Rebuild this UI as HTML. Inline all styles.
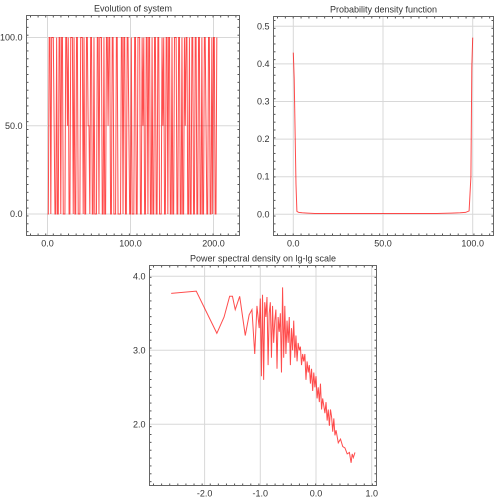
<!DOCTYPE html>
<html><head><meta charset="utf-8"><style>
body{margin:0;background:#fff;}
svg{display:block;font-family:"Liberation Sans","DejaVu Sans",sans-serif;}
</style></head><body>
<svg id="c" width="500" height="500" viewBox="0 0 500 500"></svg>
<script>
// ---- data: evolution of system ----
const evoValues = [0,0,100,100,0,100,100,100,50,0,0,100,0,0,100,100,0,100,100,0,0,0,100,100,50,100,0,0,100,100,100,0,100,0,0,100,100,0,0,0,
100,100,100,0,100,0,0,100,100,50,50,0,100,100,0,0,100,0,0,0,100,100,0,100,100,100,0,0,100,0,0,100,100,50,100,100,0,0,100,100,
0,0,0,100,100,0,0,0,0,100,100,0,100,100,0,0,100,100,50,0,0,100,0,0,0,100,100,0,0,100,100,100,0,0,100,50,100,0,0,100,
100,0,100,100,0,0,100,0,0,100,100,0,0,100,100,0,0,0,100,50,100,0,0,100,100,0,100,100,0,0,100,0,0,100,100,100,0,0,100,100,
0,0,100,0,0,100,50,100,100,0,0,100,0,0,100,100,0,0,100,100,0,0,100,100,0,0,100,0,0,100,100,50,0,0,100,100,0,0,100,0,
100,100,0,0,100];
const evoXTicks = [0,100,200];
const evoYTicks = [0,50,100];
// ---- data: probability density ----
const pdfX = [0,0.5,1,1.5,2,3,5,8,12,20,30,40,50,60,70,80,88,93,96,98,99,99.5,100];
const pdfY = [0.43,0.36,0.22,0.08,0.008,0.005,0.004,0.003,0.002,0.002,0.002,0.002,0.002,0.002,0.002,0.002,0.003,0.004,0.005,0.009,0.1,0.39,0.47];
const pdfXTicks = [0,50,100];
const pdfYTicks = [0,0.1,0.2,0.3,0.4,0.5];
// ---- data: power spectral density (lg-lg) ----
const psdX = [-2.6,-2.15,-1.78,-1.65,-1.55,-1.5,-1.45,-1.37,-1.27,-1.2,-1.15,-1.1,-1.06,-1.02,-1.0,-0.98,-0.96,-0.94,-0.92,-0.9,-0.88,-0.86,-0.84,-0.82,-0.8,-0.78,-0.76,-0.74,-0.72,-0.7,-0.68,-0.66,-0.64,-0.62,-0.6,-0.58,-0.56,-0.54,-0.52,-0.5,-0.48,-0.46,-0.44,-0.42,-0.4,-0.38,-0.36,-0.34,-0.32,-0.3,-0.28,-0.26,-0.24,-0.22,-0.2,-0.18,-0.16,-0.14,-0.12,-0.1,-0.08,-0.06,-0.04,-0.02,0.0,0.02,0.04,0.06,0.08,0.1,0.12,0.14,0.16,0.18,0.2,0.22,0.24,0.26,0.28,0.3,0.32,0.34,0.36,0.4,0.44,0.48,0.52,0.56,0.6,0.63,0.65,0.67,0.7];
const psdY = [3.77,3.8,3.23,3.45,3.73,3.73,3.55,3.73,3.2,3.48,3.55,2.95,3.6,3.3,3.7,2.65,3.75,2.6,3.65,3.45,3.72,2.8,3.5,3.65,2.9,3.6,3.1,3.4,3.55,2.75,3.45,3.25,3.5,2.7,3.85,2.9,3.6,2.95,3.4,3.1,3.45,2.8,3.3,3.0,3.4,2.9,3.2,2.85,3.1,3.0,3.05,2.8,2.95,2.85,2.95,2.6,2.85,2.7,2.8,2.55,2.75,2.45,2.7,2.5,2.65,2.35,2.5,2.3,2.55,2.2,2.35,2.25,2.15,2.3,2.05,2.2,1.98,2.2,2.1,1.9,2.08,1.85,1.92,1.75,1.8,1.7,1.68,1.6,1.62,1.48,1.6,1.55,1.62];
const psdXTicks = [-2,-1,0,1];
const psdYTicks = [2,3,4];

const svg = document.getElementById('c');
const NS = 'http://www.w3.org/2000/svg';
function mk(tag, attrs, parent){const e=document.createElementNS(NS,tag);for(const k in attrs)e.setAttribute(k,attrs[k]);(parent||svg).appendChild(e);return e;}

function panel(name, box, title, xd, yd, xt, yt, xs, ys, fmt){
  const g = mk('g',{});
  
  
  const X = v => xd.p0 + (v - xd.v0) * xd.k;
  const Y = v => yd.p0 - (v - yd.v0) * yd.k;
  const t = mk('text',{x:(box.l+box.r)/2,y:box.t-4,'text-anchor':'middle','font-size':9,fill:'#333'},g);
  t.textContent = title;
  
  
  mk('rect',{x:box.l,y:box.t,width:box.r-box.l,height:box.b-box.t,fill:'#fff'},g);
  xt.forEach(v=>{
    mk('line',{x1:X(v),x2:X(v),y1:box.t,y2:box.b,stroke:'#d8d8d8','stroke-width':1},g);
    const l = mk('text',{x:X(v),y:box.b+11,'text-anchor':'middle','font-size':9,fill:'#333'},g);
    l.textContent = fmt(v);
    
    
  });
  yt.forEach(v=>{
    mk('line',{x1:box.l,x2:box.r,y1:Y(v),y2:Y(v),stroke:'#d8d8d8','stroke-width':1},g);
    const l = mk('text',{x:box.l-4,y:Y(v)+3,'text-anchor':'end','font-size':9,fill:'#333'},g);
    l.textContent = fmt(v);
    
    
  });
  for(let x=box.l+4;x<box.r;x+=(box.r-box.l)/28){
    mk('line',{x1:x,x2:x,y1:box.t,y2:box.t+2,stroke:'#555'},g);
    mk('line',{x1:x,x2:x,y1:box.b,y2:box.b-2,stroke:'#555'},g);
  }
  for(let y=box.t+4;y<box.b;y+=(box.b-box.t)/28){
    mk('line',{x1:box.l,x2:box.l+2,y1:y,y2:y,stroke:'#555'},g);
    mk('line',{x1:box.r,x2:box.r-2,y1:y,y2:y,stroke:'#555'},g);
  }
  const pts = xs.map((x,i)=>X(x).toFixed(2)+','+Y(ys[i]).toFixed(2)).join(' ');
  const pl = mk('polyline',{points:pts,fill:'none',stroke:'rgba(255,0,0,0.7)','stroke-width':1},g);
  
  
  mk('rect',{x:box.l,y:box.t,width:box.r-box.l,height:box.b-box.t,fill:'none',stroke:'#666','stroke-width':1},g);
}
const f1 = v => v.toFixed(1);
panel('evolution-plot',{l:26.5,t:15.5,r:239.5,b:235.5},'Evolution of system',
  {v0:0,p0:47.5,k:0.83},{v0:0,p0:214,k:1.765},evoXTicks,evoYTicks,evoValues.map((v,i)=>i),evoValues,f1);
panel('pdf-plot',{l:273.5,t:16.5,r:493.5,b:235.5},'Probability density function',
  {v0:0,p0:293.3,k:1.794},{v0:0,p0:214.3,k:376},pdfXTicks,pdfYTicks,pdfX,pdfY,f1);
panel('psd-plot',{l:149.5,t:265.5,r:376.5,b:485.5},'Power spectral density on lg-lg scale',
  {v0:0,p0:316,k:55.7},{v0:3,p0:350.3,k:74},psdXTicks,psdYTicks,psdX,psdY,f1);
</script>
</body></html>
